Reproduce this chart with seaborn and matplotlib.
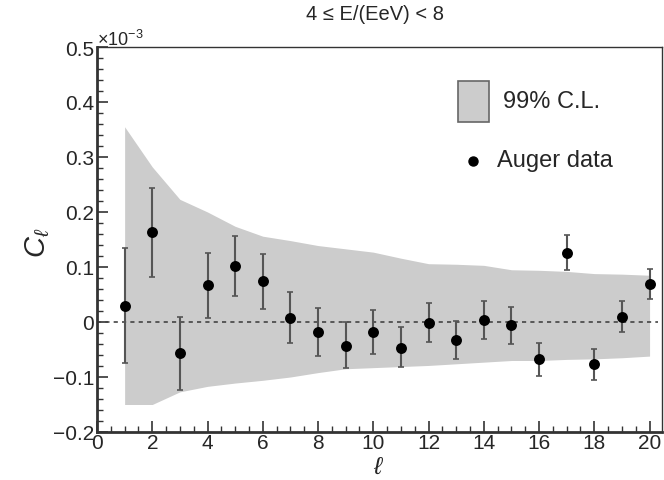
import numpy as np
import pandas as pd
import matplotlib
matplotlib.use("Agg")
import matplotlib.pyplot as plt
import seaborn as sns
from matplotlib.ticker import MultipleLocator
from matplotlib.patches import Rectangle
from matplotlib.lines import Line2D

# ---- data (units of 1e-3) ----
ell = list(range(1, 21))
cl = [0.029, 0.163, -0.057, 0.067, 0.102, 0.074, 0.008, -0.019, -0.043, -0.019,
      -0.047, -0.002, -0.032, 0.004, -0.006, -0.068, 0.126, -0.077, 0.010, 0.069]
cl_hi = [0.134, 0.243, 0.010, 0.126, 0.156, 0.124, 0.054, 0.026, 0.000, 0.021,
         -0.009, 0.034, 0.002, 0.038, 0.027, -0.038, 0.158, -0.049, 0.039, 0.096]
cl_lo = [-0.074, 0.082, -0.124, 0.007, 0.048, 0.024, -0.038, -0.062, -0.083, -0.058,
         -0.082, -0.037, -0.068, -0.030, -0.040, -0.098, 0.095, -0.106, -0.018, 0.042]
band_hi = [0.355, 0.282, 0.223, 0.200, 0.174, 0.156, 0.148, 0.139, 0.133, 0.127,
           0.116, 0.106, 0.105, 0.103, 0.095, 0.094, 0.092, 0.088, 0.087, 0.085]
band_lo = [-0.150, -0.150, -0.127, -0.117, -0.111, -0.106, -0.100, -0.092, -0.085, -0.083,
           -0.081, -0.079, -0.076, -0.073, -0.070, -0.070, -0.068, -0.067, -0.065, -0.062]
yticks = [-0.2, -0.1, 0, 0.1, 0.2, 0.3, 0.4, 0.5]
yticklabels = ["\u22120.2", "\u22120.1", "0", "0.1", "0.2", "0.3", "0.4", "0.5"]
xticks = list(range(0, 21, 2))
title = "4 \u2264 E/(EeV) < 8"
legend_labels = ["99% C.L.", "Auger data"]

df = pd.DataFrame({"ell": ell, "cl": cl, "hi": cl_hi, "lo": cl_lo,
                   "bhi": band_hi, "blo": band_lo})

sns.set_theme(style="ticks")
plt.rcParams['font.family'] = ['Liberation Sans', 'DejaVu Sans']
plt.rcParams['mathtext.fontset'] = 'custom'
plt.rcParams['mathtext.it'] = 'Liberation Sans:italic'
plt.rcParams['mathtext.rm'] = 'Liberation Sans'

fig = plt.figure(figsize=(6.64, 4.81), dpi=100)
ax = fig.add_axes([97/664, 1-433/481, (662-97)/664, (433-48)/481])

band_col = "#cccccc"
ax.fill_between(df["ell"], df["blo"], df["bhi"], color=band_col, lw=0, zorder=1)
ax.plot([0, 20.3], [0, 0], ls=(0, (2.5, 2.5)), color="#444444", lw=1.2, zorder=2)
ax.errorbar(df["ell"], df["cl"],
            yerr=[df["cl"] - df["lo"], df["hi"] - df["cl"]],
            fmt="none", ecolor="#555555", elinewidth=1.5, capsize=2.2,
            capthick=1.2, zorder=3)
sns.scatterplot(data=df, x="ell", y="cl", ax=ax, color="black", s=62,
                edgecolor="black", linewidth=0, zorder=4, legend=False)

ax.set_xlim(0, 20.45)
ax.set_ylim(-0.2, 0.5)
ax.xaxis.set_minor_locator(MultipleLocator(0.5))
ax.yaxis.set_minor_locator(MultipleLocator(0.02))
ax.set_yticks(yticks)
ax.set_yticklabels(yticklabels)
ax.set_xticks(xticks)
ax.set_xticklabels([str(v) for v in xticks])
ax.tick_params(which="major", direction="in", length=8, width=1.2, labelsize=15,
               color="#333333", pad=2)
ax.tick_params(axis="x", which="major", pad=1)
ax.tick_params(which="minor", direction="in", length=4, width=1.0, color="#333333")
for s in ax.spines.values():
    s.set_color("#333333")
ax.spines["left"].set_linewidth(2)
ax.spines["bottom"].set_linewidth(2)
ax.spines["top"].set_linewidth(1.0)
ax.spines["right"].set_linewidth(1.0)

ax.set_xlabel("")
ax.set_ylabel("")
fig.text(379/664, 1-467/481, r"$\ell$", ha="center", va="center", fontsize=18)
fig.text(38/664, 1-243/481, r"$C_\ell$", ha="center", va="center", fontsize=21,
         rotation=90)

fig.text(375/664, 1-14/481, title, ha="center", va="center", fontsize=14.5)
fig.text(97/664, 1-40/481, r"$\times$10$^{\mathregular{-3}}$", ha="left", va="center",
         fontsize=13)

# legend
fig.patches.append(Rectangle((458/664, 1-123/481), 31/664, 41/481,
                             transform=fig.transFigure, facecolor=band_col,
                             edgecolor="#666666", lw=1.2))
fig.text(503/664, 1-102/481, legend_labels[0], ha="left", va="center", fontsize=17)
fig.lines.append(Line2D([473/664], [1-162/481], transform=fig.transFigure,
                        marker="o", color="black", markersize=6.5, ls="none"))
fig.text(497/664, 1-161/481, legend_labels[1], ha="left", va="center", fontsize=17)

fig.savefig("out.png", dpi=100)
